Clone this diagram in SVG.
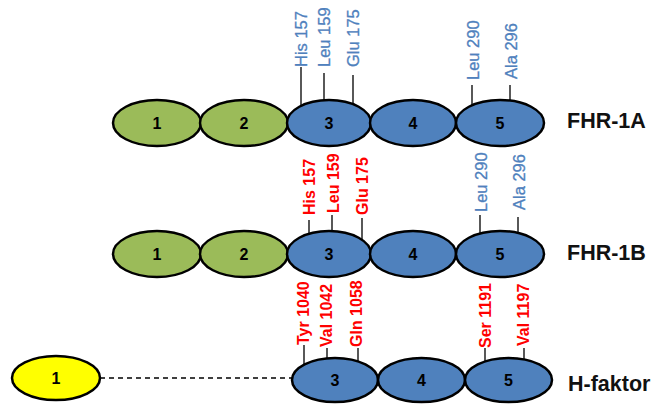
<svg xmlns="http://www.w3.org/2000/svg" width="654" height="406" viewBox="0 0 654 406">
<style>
.dom{stroke:#000;stroke-width:2.5}
.g{fill:#9BBB59}
.b{fill:#4F81BD}
.y{fill:#FFFF00}
.num{font-family:"Liberation Sans",Arial,sans-serif;font-weight:bold;font-size:16px;fill:#000;text-anchor:middle}
.row{font-family:"Liberation Sans",Arial,sans-serif;font-weight:bold;font-size:21.5px;fill:#111}
.res-b{font-family:"Liberation Sans",Arial,sans-serif;font-size:16.5px;fill:#4F81BD;stroke:#4F81BD;stroke-width:0.3}
.res-r{font-family:"Liberation Sans",Arial,sans-serif;font-weight:bold;font-size:16px;fill:#FF0000}
.tick{stroke:#000;stroke-width:1.3;fill:none}
.dash{stroke:#000;stroke-width:1.5;stroke-dasharray:5,4;fill:none}
</style>
<rect width="654" height="406" fill="#fff"/>
<g id="connectors">
  <path class="tick" d="M301,67V108M324,73V104M353,75V107M472,85V108M510,85V104"/>
  <path class="tick" d="M309,220V237M332,215V234M362,218V242M480,215V237M518,217V236"/>
  <path class="tick" d="M304,345V368M327,348V362M358,348V364M485,348V364M524,348V363"/>
  <line class="dash" x1="100" y1="378" x2="293" y2="378"/>
</g>
<g id="row-fhr1a">
  <g id="a1"><ellipse class="dom g" cx="157" cy="123" rx="44" ry="23"/><text class="num" x="157" y="129">1</text></g>
  <g id="a2"><ellipse class="dom g" cx="244" cy="123" rx="44" ry="23"/><text class="num" x="244" y="129">2</text></g>
  <g id="a3"><ellipse class="dom b" cx="329" cy="123" rx="42" ry="23"/><text class="num" x="329" y="129">3</text></g>
  <g id="a4"><ellipse class="dom b" cx="413" cy="123" rx="43" ry="23"/><text class="num" x="413" y="129">4</text></g>
  <g id="a5"><ellipse class="dom b" cx="500" cy="123" rx="44" ry="23"/><text class="num" x="500" y="129">5</text></g>
  <text class="row" x="567" y="128">FHR-1A</text>
</g>
<g id="row-fhr1b">
  <g id="b1"><ellipse class="dom g" cx="157" cy="254" rx="44" ry="23"/><text class="num" x="157" y="260">1</text></g>
  <g id="b2"><ellipse class="dom g" cx="244" cy="254" rx="44" ry="23"/><text class="num" x="244" y="260">2</text></g>
  <g id="b3"><ellipse class="dom b" cx="329" cy="254" rx="42" ry="23"/><text class="num" x="329" y="260">3</text></g>
  <g id="b4"><ellipse class="dom b" cx="413" cy="254" rx="43" ry="23"/><text class="num" x="413" y="260">4</text></g>
  <g id="b5"><ellipse class="dom b" cx="500" cy="254" rx="44" ry="23"/><text class="num" x="500" y="260">5</text></g>
  <text class="row" x="567" y="260">FHR-1B</text>
</g>
<g id="row-hfaktor">
  <g id="h1"><ellipse class="dom y" cx="56" cy="378" rx="44" ry="22"/><text class="num" x="56" y="384">1</text></g>
  <g id="h3"><ellipse class="dom b" cx="335" cy="380" rx="43" ry="22"/><text class="num" x="335" y="386">3</text></g>
  <g id="h4"><ellipse class="dom b" cx="421.5" cy="380" rx="43.5" ry="22"/><text class="num" x="421.5" y="386">4</text></g>
  <g id="h5"><ellipse class="dom b" cx="508.5" cy="380" rx="43.5" ry="22"/><text class="num" x="508.5" y="386">5</text></g>
  <text class="row" x="568" y="391">H-faktor</text>
</g>
<g id="residues">
  <text class="res-b" transform="translate(307,67) rotate(-90)">His 157</text>
  <text class="res-b" transform="translate(330,67) rotate(-90)">Leu 159</text>
  <text class="res-b" transform="translate(359,67) rotate(-90)">Glu 175</text>
  <text class="res-b" transform="translate(479,80) rotate(-90)">Leu 290</text>
  <text class="res-b" transform="translate(517,79) rotate(-90)">Ala 296</text>

  <text class="res-r" transform="translate(315,215) rotate(-90)">His 157</text>
  <text class="res-r" transform="translate(339,213) rotate(-90)">Leu 159</text>
  <text class="res-r" transform="translate(368,215) rotate(-90)">Glu 175</text>
  <text class="res-b" transform="translate(487,212) rotate(-90)">Leu 290</text>
  <text class="res-b" transform="translate(525,210) rotate(-90)">Ala 296</text>

  <text class="res-r" transform="translate(309,345) rotate(-90)">Tyr 1040</text>
  <text class="res-r" transform="translate(332,347) rotate(-90)">Val 1042</text>
  <text class="res-r" transform="translate(362,347) rotate(-90)">Gln 1058</text>
  <text class="res-r" transform="translate(491,348) rotate(-90)">Ser 1191</text>
  <text class="res-r" transform="translate(529,346) rotate(-90)">Val 1197</text>
</g>
</svg>
